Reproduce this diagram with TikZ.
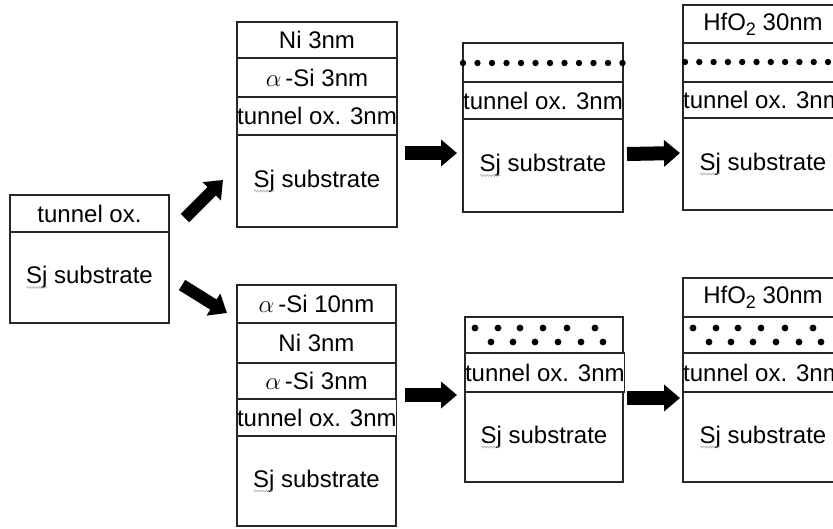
\documentclass[tikz,border=0pt]{standalone}
\usepackage{fontspec}
\setmainfont{Liberation Sans}
\usetikzlibrary{arrows.meta,decorations.pathmorphing}
\tikzset{
  layer/.style={draw=black!85, line width=1.1pt, inner sep=0pt, outer sep=0pt,
    anchor=north west, minimum width=160pt, font=\fontsize{24}{28}\selectfont},
  blk/.style={line width=14pt, -{Triangle[length=16pt,width=26pt]}},
  dblk/.style={line width=12pt, -{Triangle[length=16pt,width=25pt]}},
  dotf/.style={fill=black},
  sq/.style={draw=gray!70, line width=0.6pt, decorate,
    decoration={snake, amplitude=0.9pt, segment length=3pt}}
}
\newcommand{\asi}{$\alpha$\,-Si}
\newcommand{\hfo}{HfO\raisebox{-0.4ex}{\fontsize{18}{18}\selectfont 2}}
\begin{document}
\begin{tikzpicture}[x=1pt,y=-1pt]
\useasboundingbox (0,0) rectangle (833,528);
\fill[white] (0,0) rectangle (833,528);
\clip (0,0) rectangle (833,528);
% box 0
\node[layer, minimum width=159pt, minimum height=37pt] (b0t) at (10,195) {tunnel ox.};
\node[layer, minimum width=159pt, minimum height=91pt] (b0s) at (10,232) {Sj substrate};
% box 1
\node[layer, minimum height=36pt] (b1n) at (237,22) {Ni 3nm};
\node[layer, minimum height=39pt] (b1a) at (237,58) {\asi\ 3nm};
\node[layer, minimum height=38pt] (b1t) at (237,97) {tunnel ox. 3nm};
\node[layer, minimum height=92pt] (b1s) at (237,135) {Sj substrate};
% box 2
\node[layer, minimum height=39pt] (b2d) at (463,43) {};
\node[layer, minimum height=37pt] (b2t) at (463,82) {tunnel ox. 3nm};
\node[layer, minimum height=93pt] (b2s) at (463,119) {Sj substrate};
% box 3
\node[layer, minimum height=38pt] (b3h) at (683,5) {\hfo\ 30nm};
\node[layer, minimum height=39pt] (b3d) at (683,43) {};
\node[layer, minimum height=36pt] (b3t) at (683,82) {tunnel ox. 3nm};
\node[layer, minimum height=92pt] (b3s) at (683,118) {Sj substrate};
% box 4
\node[layer, minimum width=159pt, minimum height=38pt] (b4a) at (237,285) {\asi\ 10nm};
\node[layer, minimum width=159pt, minimum height=40pt] (b4n) at (237,323) {Ni 3nm};
\node[layer, minimum width=159pt, minimum height=36pt] (b4b) at (237,363) {\asi\ 3nm};
\node[layer, minimum width=159pt, minimum height=37pt] (b4t) at (237,399) {tunnel ox. 3nm};
\node[layer, minimum width=159pt, minimum height=90pt] (b4s) at (237,436) {Sj substrate};
% box 5
\node[layer, minimum width=158pt, minimum height=36pt] (b5d) at (465,317) {};
\node[layer, minimum width=158pt, minimum height=39pt] (b5t) at (465,353) {tunnel ox. 3nm};
\node[layer, minimum width=158pt, minimum height=90pt] (b5s) at (465,392) {Sj substrate};
% box 6
\node[layer, minimum height=39pt] (b6h) at (683,278) {\hfo\ 30nm};
\node[layer, minimum height=36pt] (b6d) at (683,317) {};
\node[layer, minimum height=39pt] (b6t) at (683,353) {tunnel ox. 3nm};
\node[layer, minimum height=90pt] (b6s) at (683,392) {Sj substrate};
% dots
\foreach \k in {0,...,11} {
  \fill[dotf] (463+\k*14.5,63) circle[radius=3.2pt];
  \fill[dotf] (685+\k*14.3,62) circle[radius=3.2pt];
}
\foreach \bx in {465,683} {
  \foreach \dx in {10,33,55,78,102,130} \fill[dotf] (\bx+\dx,328) circle[radius=3.4pt];
  \foreach \dx in {26,48,70,93,116,138} \fill[dotf] (\bx+\dx,342) circle[radius=3.4pt];
}
% squiggles under Sj
\foreach \n in {b0s,b1s,b2s,b3s,b4s,b5s,b6s}
  \draw[sq] ([shift={(-63,10)}]\n.center) -- ++(20,0);
% arrows
\draw[dblk] ([shift={(16,23)}]b0t.north east) -- ([shift={(-14,-1)}]b1s.west);
\draw[dblk] ([shift={(13,7.5)}]b0s.east) -- ([shift={(-10,9)}]b4a.west);
\draw[blk] ([shift={(8,-28)}]b1s.east) -- ([shift={(-6,-12.5)}]b2s.west);
\draw[blk] ([shift={(4,-11.5)}]b2s.east) -- ([shift={(-3,-11)}]b3s.west);
\draw[blk] ([shift={(9,14)}]b4b.east) -- ([shift={(-8,-42)}]b5s.west);
\draw[blk] ([shift={(4,-39)}]b5s.east) -- ([shift={(-3,-39)}]b6s.west);
\end{tikzpicture}
\end{document}
